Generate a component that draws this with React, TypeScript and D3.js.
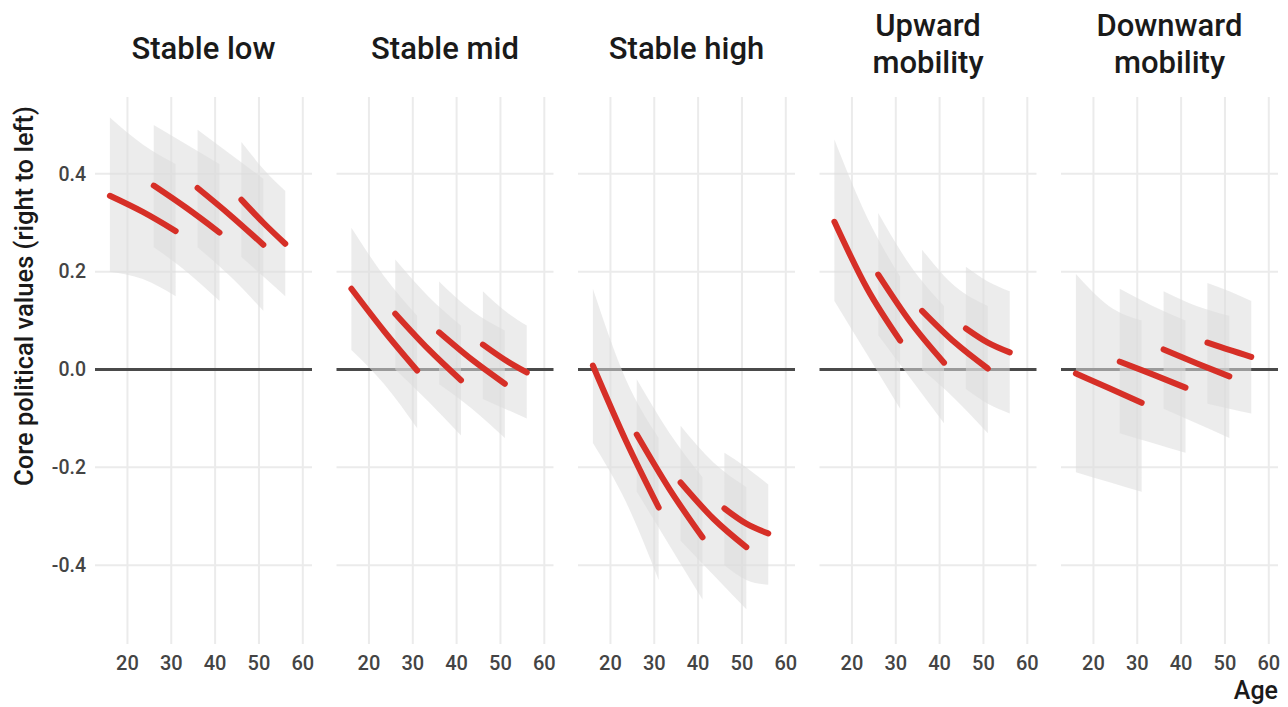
import React from "react";
import * as d3 from "d3";

// ---- Data ----
const panelTitles: string[][] = [
  ["Stable low"],
  ["Stable mid"],
  ["Stable high"],
  ["Upward", "mobility"],
  ["Downward", "mobility"],
];

const xTicks = [20, 30, 40, 50, 60];
const yTicks = [-0.4, -0.2, 0.0, 0.2, 0.4];
const yTickLabels = ["-0.4", "-0.2", "0.0", "0.2", "0.4"];

// ages sampled along each of the four cohort segments
const cohortAges: number[][] = [
  [16, 23.5, 31],
  [26, 33.5, 41],
  [36, 43.5, 51],
  [46, 51, 56],
];

// fitted values, per panel, per cohort segment
const stableLowFit = [[0.355, 0.322, 0.283], [0.376, 0.33, 0.28], [0.371, 0.315, 0.255], [0.347, 0.3, 0.257]];
const stableLowLo = [[0.2, 0.185, 0.15], [0.25, 0.2, 0.14], [0.25, 0.19, 0.12], [0.23, 0.19, 0.15]];
const stableLowHi = [[0.515, 0.46, 0.42], [0.5, 0.46, 0.42], [0.49, 0.44, 0.39], [0.465, 0.41, 0.365]];

const stableMidFit = [[0.165, 0.078, -0.002], [0.114, 0.042, -0.022], [0.076, 0.02, -0.029], [0.051, 0.02, -0.006]];
const stableMidLo = [[0.04, -0.03, -0.12], [0.0, -0.065, -0.135], [-0.03, -0.08, -0.14], [-0.06, -0.08, -0.1]];
const stableMidHi = [[0.29, 0.19, 0.11], [0.225, 0.15, 0.09], [0.18, 0.12, 0.08], [0.16, 0.12, 0.09]];

const stableHighFit = [[0.008, -0.145, -0.282], [-0.133, -0.245, -0.343], [-0.231, -0.305, -0.363], [-0.284, -0.315, -0.335]];
const stableHighLo = [[-0.15, -0.27, -0.43], [-0.25, -0.36, -0.47], [-0.35, -0.42, -0.49], [-0.4, -0.43, -0.44]];
const stableHighHi = [[0.165, -0.02, -0.14], [-0.02, -0.13, -0.22], [-0.115, -0.19, -0.24], [-0.17, -0.2, -0.235]];

const upwardFit = [[0.302, 0.165, 0.059], [0.194, 0.095, 0.014], [0.12, 0.055, 0.002], [0.084, 0.055, 0.035]];
const upwardLo = [[0.14, 0.03, -0.08], [0.07, -0.02, -0.11], [0.0, -0.06, -0.13], [-0.04, -0.07, -0.09]];
const upwardHi = [[0.47, 0.31, 0.19], [0.32, 0.21, 0.13], [0.245, 0.17, 0.13], [0.21, 0.18, 0.16]];

const downwardFit = [[-0.008, -0.038, -0.068], [0.016, -0.01, -0.037], [0.041, 0.013, -0.014], [0.055, 0.04, 0.026]];
const downwardLo = [[-0.21, -0.23, -0.25], [-0.13, -0.15, -0.17], [-0.08, -0.11, -0.14], [-0.07, -0.08, -0.09]];
const downwardHi = [[0.195, 0.13, 0.1], [0.165, 0.13, 0.1], [0.16, 0.13, 0.11], [0.177, 0.16, 0.14]];

const panelFits = [stableLowFit, stableMidFit, stableHighFit, upwardFit, downwardFit];
const panelLos = [stableLowLo, stableMidLo, stableHighLo, upwardLo, downwardLo];
const panelHis = [stableLowHi, stableMidHi, stableHighHi, upwardHi, downwardHi];

// ---- Layout ----
const W = 1288;
const H = 707;
const panelLeft0 = 95;
const panelStep = 241.5;
const panelWidth = 217;
const panelTop = 97;
const panelBottom = 644;

const FONT = "Roboto, 'Noto Sans', sans-serif";

export default function App() {
  const y = d3.scaleLinear().domain([-0.561, 0.557]).range([panelBottom, panelTop]);

  return (
    <svg
      width={W}
      height={H}
      style={{ position: "absolute", left: 0, top: 0, background: "#fff" }}
      fontFamily={FONT}
    >
      {/* y-axis title */}
      <text
        transform={`translate(33,296) rotate(-90)`}
        textAnchor="middle"
        fontSize={25.5}
        fontWeight={500}
        fill="#1a1a1a"
      >
        Core political values (right to left)
      </text>

      {/* y tick labels */}
      {yTicks.map((t, i) => (
        <text
          key={"yl" + i}
          x={86}
          y={y(t)}
          dy="0.35em"
          textAnchor="end"
          fontSize={19.5}
          fontWeight={500}
          fill="#444"
        >
          {yTickLabels[i]}
        </text>
      ))}

      {panelTitles.map((title, p) => {
        const left = panelLeft0 + p * panelStep;
        const x = d3.scaleLinear().domain([12.6, 62.1]).range([left, left + panelWidth]);
        const line = d3
          .line<[number, number]>()
          .x((d) => x(d[0]))
          .y((d) => y(d[1]))
          .curve(d3.curveMonotoneX);
        const area = d3
          .area<[number, number, number]>()
          .x((d) => x(d[0]))
          .y0((d) => y(d[1]))
          .y1((d) => y(d[2]))
          .curve(d3.curveMonotoneX);
        const cx = left + panelWidth / 2;
        const fits = panelFits[p];
        const los = panelLos[p];
        const his = panelHis[p];
        return (
          <g key={"p" + p}>
            {/* strip title */}
            {title.map((tl, k) => (
              <text
                key={k}
                x={cx}
                y={title.length === 1 ? 59 : 36 + k * 37}
                textAnchor="middle"
                fontSize={31}
                fontWeight={500}
                fill="#1a1a1a"
              >
                {tl}
              </text>
            ))}

            {/* grid */}
            {yTicks
              .filter((t) => t !== 0)
              .map((t, i) => (
                <line
                  key={"gy" + i}
                  x1={left}
                  x2={left + panelWidth}
                  y1={y(t)}
                  y2={y(t)}
                  stroke="#ebebeb"
                  strokeWidth={2}
                />
              ))}
            {xTicks.map((t, i) => (
              <line
                key={"gx" + i}
                x1={x(t)}
                x2={x(t)}
                y1={panelTop}
                y2={panelBottom}
                stroke="#ebebeb"
                strokeWidth={2}
              />
            ))}

            {/* zero reference line */}
            <line
              x1={left}
              x2={left + panelWidth}
              y1={y(0)}
              y2={y(0)}
              stroke="#4a4a4a"
              strokeWidth={3}
            />

            {/* ribbons */}
            {cohortAges.map((ages, s) => (
              <path
                key={"r" + s}
                d={area(ages.map((a, k) => [a, los[s][k], his[s][k]]))!}
                fill="#dcdcdc"
                fillOpacity={0.55}
              />
            ))}

            {/* fitted lines */}
            {cohortAges.map((ages, s) => (
              <path
                key={"l" + s}
                d={line(ages.map((a, k) => [a, fits[s][k]]))!}
                fill="none"
                stroke="#d62f27"
                strokeWidth={6}
                strokeLinecap="round"
              />
            ))}

            {/* x tick labels */}
            {xTicks.map((t, i) => (
              <text
                key={"xl" + i}
                x={x(t)}
                y={670}
                textAnchor="middle"
                fontSize={20}
                fontWeight={500}
                fill="#444"
              >
                {t}
              </text>
            ))}
          </g>
        );
      })}

      {/* x axis title */}
      <text x={1278} y={699} textAnchor="end" fontSize={25} fontWeight={500} fill="#1a1a1a">
        Age
      </text>
    </svg>
  );
}
